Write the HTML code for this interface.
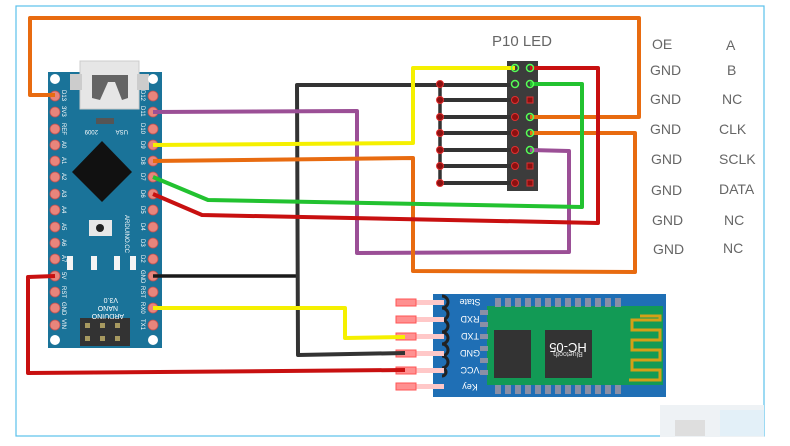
<!DOCTYPE html>
<html><head><meta charset="utf-8"><style>
html,body{margin:0;padding:0;background:#fff;width:790px;height:446px;overflow:hidden}
svg{display:block}
text{font-family:"Liberation Sans","DejaVu Sans",sans-serif}
</style></head><body>
<svg width="790" height="446" viewBox="0 0 790 446" xmlns="http://www.w3.org/2000/svg">
<rect x="16" y="6" width="748" height="430" fill="#fff" stroke="#5bc0eb" stroke-width="1.2"/>
<rect x="660" y="405" width="104" height="32" fill="#eef2f5"/>
<rect x="675" y="420" width="30" height="16" fill="#dedede"/>
<rect x="720" y="410" width="44" height="26" fill="#e3f0f8"/>

<!-- Arduino board -->
<rect x="48" y="72" width="114" height="276" fill="#1a7399"/>
<rect x="80" y="61" width="59" height="48" fill="#e6e6e6" stroke="#ccc"/>
<rect x="70" y="74" width="12" height="16" fill="#ccc"/><rect x="137" y="74" width="12" height="16" fill="#ccc"/>
<path d="M92 75 L92 98 L100 100 L108 82 L115 82 L122 100 L128 98 L128 75 Z" fill="#444" opacity="0.8"/>
<rect x="96" y="118" width="18" height="6" fill="#555"/>
<polygon points="102,141 132,172 102,202 72,172" fill="#111"/>
<rect x="89" y="220" width="23" height="16" fill="#e8e8e8"/><circle cx="100" cy="228" r="4" fill="#222"/>
<rect x="67" y="256" width="6" height="14" fill="#f4f4f4"/><rect x="91" y="256" width="6" height="14" fill="#f4f4f4"/>
<rect x="114" y="256" width="6" height="14" fill="#f4f4f4"/><rect x="130" y="256" width="6" height="14" fill="#f4f4f4"/>
<rect x="80" y="318" width="50" height="28" fill="#333"/>
<g fill="#a89a60"><rect x="85" y="323" width="5" height="5"/><rect x="100" y="323" width="5" height="5"/><rect x="115" y="323" width="5" height="5"/><rect x="85" y="336" width="5" height="5"/><rect x="100" y="336" width="5" height="5"/><rect x="115" y="336" width="5" height="5"/></g>
<g fill="#fff"><circle cx="55" cy="79" r="5"/><circle cx="153" cy="79" r="5"/><circle cx="55" cy="340" r="5"/><circle cx="153" cy="340" r="5"/></g>
<g fill="#e8857c" stroke="#c05050" stroke-width="0.8">
<circle cx="55" cy="96" r="5"/><circle cx="55" cy="112" r="5"/><circle cx="55" cy="129" r="5"/><circle cx="55" cy="145" r="5"/><circle cx="55" cy="161" r="5"/><circle cx="55" cy="177" r="5"/><circle cx="55" cy="194" r="5"/><circle cx="55" cy="210" r="5"/><circle cx="55" cy="227" r="5"/><circle cx="55" cy="243" r="5"/><circle cx="55" cy="259" r="5"/><circle cx="55" cy="276" r="5"/><circle cx="55" cy="292" r="5"/><circle cx="55" cy="308" r="5"/><circle cx="55" cy="325" r="5"/>
<circle cx="153" cy="96" r="5"/><circle cx="153" cy="112" r="5"/><circle cx="153" cy="129" r="5"/><circle cx="153" cy="145" r="5"/><circle cx="153" cy="161" r="5"/><circle cx="153" cy="177" r="5"/><circle cx="153" cy="194" r="5"/><circle cx="153" cy="210" r="5"/><circle cx="153" cy="227" r="5"/><circle cx="153" cy="243" r="5"/><circle cx="153" cy="259" r="5"/><circle cx="153" cy="276" r="5"/><circle cx="153" cy="292" r="5"/><circle cx="153" cy="308" r="5"/><circle cx="153" cy="325" r="5"/>
</g>
<g font-size="6" fill="#fff">
<text transform="translate(62,90) rotate(90)">D13</text><text transform="translate(62,106) rotate(90)">3V3</text><text transform="translate(62,123) rotate(90)">REF</text>
<text transform="translate(62,141) rotate(90)">A0</text><text transform="translate(62,157) rotate(90)">A1</text><text transform="translate(62,173) rotate(90)">A2</text><text transform="translate(62,190) rotate(90)">A3</text><text transform="translate(62,206) rotate(90)">A4</text><text transform="translate(62,223) rotate(90)">A5</text><text transform="translate(62,239) rotate(90)">A6</text><text transform="translate(62,255) rotate(90)">A7</text><text transform="translate(62,272) rotate(90)">5V</text><text transform="translate(62,286) rotate(90)">RST</text><text transform="translate(62,302) rotate(90)">GND</text><text transform="translate(62,319) rotate(90)">VIN</text>
<text transform="translate(141,90) rotate(90)">D12</text><text transform="translate(141,106) rotate(90)">D11</text><text transform="translate(141,123) rotate(90)">D10</text><text transform="translate(141,141) rotate(90)">D9</text><text transform="translate(141,157) rotate(90)">D8</text><text transform="translate(141,173) rotate(90)">D7</text><text transform="translate(141,190) rotate(90)">D6</text><text transform="translate(141,206) rotate(90)">D5</text><text transform="translate(141,223) rotate(90)">D4</text><text transform="translate(141,239) rotate(90)">D3</text><text transform="translate(141,255) rotate(90)">D2</text><text transform="translate(141,270) rotate(90)">GND</text><text transform="translate(141,286) rotate(90)">RST</text><text transform="translate(141,302) rotate(90)">RX0</text><text transform="translate(141,319) rotate(90)">TX1</text>
<text transform="translate(125,215) rotate(90)">ARDUINO.CC</text>
<text transform="translate(128,130) rotate(180)">USA</text><text transform="translate(98,130) rotate(180)">2009</text>
<text transform="translate(118,298) rotate(180)" font-size="7">V3.0</text><text transform="translate(118,306) rotate(180)" font-size="7">NANO</text><text transform="translate(124,314) rotate(180)" font-size="7">ARDUINO</text>
</g>

<!-- P10 header -->
<rect x="507" y="61" width="31" height="130" fill="#3c3c3c"/>
<text x="522" y="46" font-size="15" fill="#666" text-anchor="middle">P10 LED</text>

<!-- HC-05 -->
<rect x="433" y="294" width="233" height="103" fill="#1f6fb5"/>
<rect x="487" y="306" width="176" height="79" fill="#129a55"/>
<g fill="#8a8fa5">
<rect x="495" y="298" width="6" height="9"/><rect x="505" y="298" width="6" height="9"/><rect x="515" y="298" width="6" height="9"/><rect x="525" y="298" width="6" height="9"/><rect x="535" y="298" width="6" height="9"/><rect x="545" y="298" width="6" height="9"/><rect x="555" y="298" width="6" height="9"/><rect x="565" y="298" width="6" height="9"/><rect x="575" y="298" width="6" height="9"/><rect x="585" y="298" width="6" height="9"/><rect x="595" y="298" width="6" height="9"/><rect x="605" y="298" width="6" height="9"/><rect x="615" y="298" width="6" height="9"/>
<rect x="495" y="385" width="6" height="9"/><rect x="505" y="385" width="6" height="9"/><rect x="515" y="385" width="6" height="9"/><rect x="525" y="385" width="6" height="9"/><rect x="535" y="385" width="6" height="9"/><rect x="545" y="385" width="6" height="9"/><rect x="555" y="385" width="6" height="9"/><rect x="565" y="385" width="6" height="9"/><rect x="575" y="385" width="6" height="9"/><rect x="585" y="385" width="6" height="9"/><rect x="595" y="385" width="6" height="9"/><rect x="605" y="385" width="6" height="9"/><rect x="615" y="385" width="6" height="9"/>
<rect x="480" y="310" width="8" height="5"/><rect x="480" y="322" width="8" height="5"/><rect x="480" y="334" width="8" height="5"/><rect x="480" y="346" width="8" height="5"/><rect x="480" y="358" width="8" height="5"/><rect x="480" y="370" width="8" height="5"/>
</g>
<rect x="494" y="330" width="37" height="48" fill="#333"/>
<rect x="545" y="330" width="47" height="48" fill="#333"/>
<text transform="translate(568,352) rotate(180)" font-size="7" fill="#ddd" text-anchor="middle">Bluetooth</text>
<text transform="translate(568,343) rotate(180)" font-size="13" fill="#fff" text-anchor="middle">HC-05</text>
<path d="M629 380 L660 380 L660 370 L632 370 L632 360 L660 360 L660 350 L632 350 L632 340 L660 340 L660 330 L632 330 L632 320 L660 320 L660 316 L640 316" fill="none" stroke="#d4a017" stroke-width="3"/>
<g font-size="9" fill="#fff" text-anchor="middle">
<text transform="translate(470,299) rotate(180)">State</text><text transform="translate(470,316) rotate(180)">RXD</text><text transform="translate(470,333) rotate(180)">TXD</text><text transform="translate(470,350) rotate(180)">GND</text><text transform="translate(470,367) rotate(180)">VCC</text><text transform="translate(470,384) rotate(180)">Key</text>
</g>
<g fill="none" stroke="#222" stroke-width="3">
<path d="M442 296 a6 6 0 0 1 0 12 a6 6 0 0 1 0 12 a6 6 0 0 1 0 12 a6 6 0 0 1 0 12 a6 6 0 0 1 0 12 a6 6 0 0 1 0 12 a4 4 0 0 1 0 8"/>
</g>
<g fill="#ffc8c8"><rect x="410" y="300" width="34" height="5"/><rect x="410" y="317" width="34" height="5"/><rect x="410" y="334" width="34" height="5"/><rect x="410" y="351" width="34" height="5"/><rect x="410" y="368" width="34" height="5"/><rect x="410" y="384" width="34" height="5"/></g>
<g fill="#ff9090" stroke="#f55" stroke-width="1"><rect x="396" y="299" width="20" height="7"/><rect x="396" y="316" width="20" height="7"/><rect x="396" y="333" width="20" height="7"/><rect x="396" y="350" width="20" height="7"/><rect x="396" y="367" width="20" height="7"/><rect x="396" y="383" width="20" height="7"/></g>

<!-- wires -->
<g fill="none" stroke-width="4" stroke-linejoin="round">
<polyline stroke="#e86b10" points="55,95 30,95 30,18 639,18 639,117 530,117"/>
<polyline stroke="#1a1a1a" stroke-width="3.5" points="153,276 298,276"/>
<polyline stroke="#333" points="515,85 297,85 298,355 405,353"/>
<polyline stroke="#333" stroke-width="3.5" points="440,84 440,184"/>
<polyline stroke="#333" points="440,100 515,100"/><polyline stroke="#333" points="440,117 515,117"/><polyline stroke="#333" points="440,133 515,133"/><polyline stroke="#333" points="440,150 515,150"/><polyline stroke="#333" points="440,166 515,166"/><polyline stroke="#333" points="440,183 515,183"/>
<polyline stroke="#9b4f96" points="153,112 357,111 357,253 569,252 569,151 530,150"/>
<polyline stroke="#f5f000" points="153,145 413,143 413,68 515,68"/>
<polyline stroke="#e86b10" points="153,161 413,158 413,271 635,272 635,133 530,133"/>
<polyline stroke="#22c230" points="153,177 208,200 582,207 582,84 530,84"/>
<polyline stroke="#c81010" points="153,194 202,215 598,223 598,68 530,68"/>
<polyline stroke="#f5f000" points="153,308 345,308 345,338 405,337"/>
<polyline stroke="#c81010" points="55,276 28,277 28,373 405,370"/>
</g>
<g fill="#8b1010" stroke="#e03030" stroke-width="1"><circle cx="440" cy="100" r="3.5"/><circle cx="440" cy="117" r="3.5"/><circle cx="440" cy="133" r="3.5"/><circle cx="440" cy="150" r="3.5"/><circle cx="440" cy="166" r="3.5"/><circle cx="440" cy="183" r="3.5"/><circle cx="440" cy="84" r="3.5"/>
<circle cx="515" cy="100" r="3.5"/><circle cx="515" cy="117" r="3.5"/><circle cx="515" cy="133" r="3.5"/><circle cx="515" cy="150" r="3.5"/><circle cx="515" cy="166" r="3.5"/><circle cx="515" cy="183" r="3.5"/>
<rect x="527" y="97" width="6" height="6"/><rect x="527" y="163" width="6" height="6"/><rect x="527" y="180" width="6" height="6"/></g>
<g fill="none" stroke="#5f5" stroke-width="1.5"><circle cx="515" cy="68" r="3.5"/><circle cx="530" cy="68" r="3.5"/><circle cx="515" cy="84" r="3.5"/><circle cx="530" cy="84" r="3.5"/><circle cx="530" cy="117" r="3.5"/><circle cx="530" cy="133" r="3.5"/><circle cx="530" cy="150" r="3.5"/></g>

<!-- labels -->
<g font-size="14" fill="#666">
<text x="652" y="49">OE</text><text x="650" y="75">GND</text><text x="650" y="104">GND</text><text x="650" y="134">GND</text><text x="651" y="164">GND</text><text x="651" y="195">GND</text><text x="652" y="225">GND</text><text x="653" y="254">GND</text>
<text x="726" y="50">A</text><text x="727" y="75">B</text><text x="722" y="104">NC</text><text x="719" y="134">CLK</text><text x="719" y="164">SCLK</text><text x="719" y="194">DATA</text><text x="724" y="225">NC</text><text x="723" y="253">NC</text>
</g>
</svg>
</body></html>
